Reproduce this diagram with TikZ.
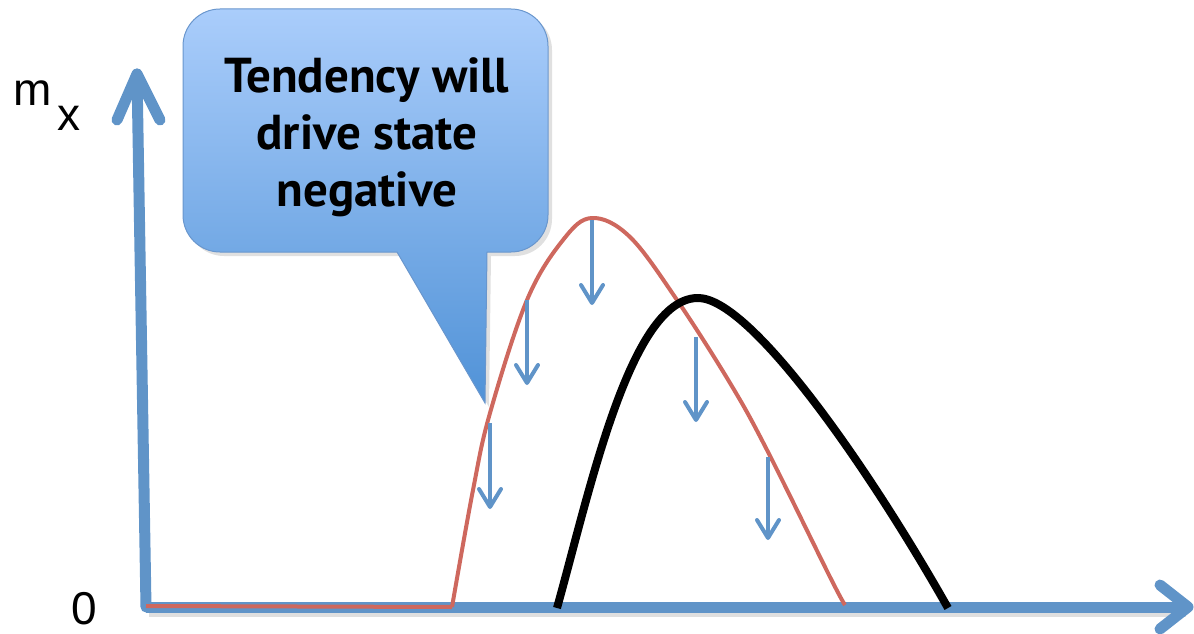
\documentclass[tikz,border=0pt]{standalone}
\usepackage{fontspec}
\usetikzlibrary{calc}
\setmainfont{Liberation Sans}
\newfontfamily\calloutfont{PT Sans}
\begin{document}
\definecolor{axisblue}{RGB}{96,148,200}
\definecolor{curvered}{RGB}{206,104,94}
\definecolor{boxtop}{RGB}{170,205,251}
\definecolor{boxbottom}{RGB}{80,146,215}
\definecolor{boxedge}{RGB}{105,150,205}
\begin{tikzpicture}[x=1pt,y=-1pt,
  axisline/.style={draw=axisblue,line width=11pt,line cap=round,line join=round},
  tendarrow/.style={draw=axisblue,line width=4pt,line join=round},
  tendhead/.style={draw=axisblue,line width=4pt,line cap=round,line join=round},
  state/.style={line width=4pt,draw=curvered,line join=round},
  shifted/.style={line width=8pt,draw=black,line join=round},
  lbl/.style={font=\fontsize{46}{52}\selectfont,inner sep=0pt}]
\useasboundingbox (0,0) rectangle (1194,634);

% axes
\coordinate (origin) at (146,607);
\coordinate (ytip) at (137,74);
\coordinate (xtip) at (1188,607);
\draw[black!25,line width=11pt,opacity=0.5] (149,611) -- (1186,611);
\draw[axisline] (origin) -- (ytip);
\draw[axisline] (117,120) -- (ytip) -- (160,120);
\draw[axisline,line cap=butt] (origin) -- (xtip);
\draw[axisline] (1160,585) -- (xtip) -- (1160,629);

% axis labels
\node[lbl,anchor=base west] (mlab) at (13,106) {m};
\node[lbl,anchor=base west] (xlab) at (57,130) {x};
\node[lbl,anchor=base] (zero) at (84,624) {0};

% callout shadow and body
\fill[black,opacity=0.12] (400,256) -- (489,407) -- (491,256)
  [rounded corners=37pt] -- (552,256) -- (552,13) -- (187,13) -- (187,256)
  [sharp corners] -- cycle;
\shade[top color=boxtop,bottom color=boxbottom,draw=boxedge,line width=1pt]
  (397,252) -- (485,403) -- (487,252)
  [rounded corners=37pt] -- (548,252) -- (548,9) -- (183,9) -- (183,252)
  [sharp corners] -- cycle;
\node[font=\calloutfont\bfseries\fontsize{49}{57}\selectfont,align=center,
  inner sep=0pt,anchor=base] (callout) at (367,206)
  {Tendency will\\drive state\\negative};

% state curve
\draw[state] (146,606) -- (452,607)
  plot[smooth,tension=0.6] coordinates {(452,607) (473,490) (490,413) (527,300)
   (563,240) (592,218) (630,237) (677,300) (730,383) (767,450) (830,577) (845,605)};

% shifted curve
\draw[shifted] (557,608) .. controls (590,490) and (630,300) .. (697,298)
  .. controls (750,296) and (870,470) .. (948,608);

% tendency arrows
\foreach \n/\x/\ya/\yb in {a/490/423/507, b/527/300/383, c/592/220/303,
                           d/696/337/420, e/768/457/538}{
  \coordinate (\n s) at (\x,\ya);
  \coordinate (\n t) at (\x,\yb);
  \draw[tendarrow] (\n s) -- (\n t);
  \draw[tendhead] ($(\n t)+(-11,-18)$) -- (\n t) -- ($(\n t)+(11,-18)$);
}
\end{tikzpicture}
\end{document}
